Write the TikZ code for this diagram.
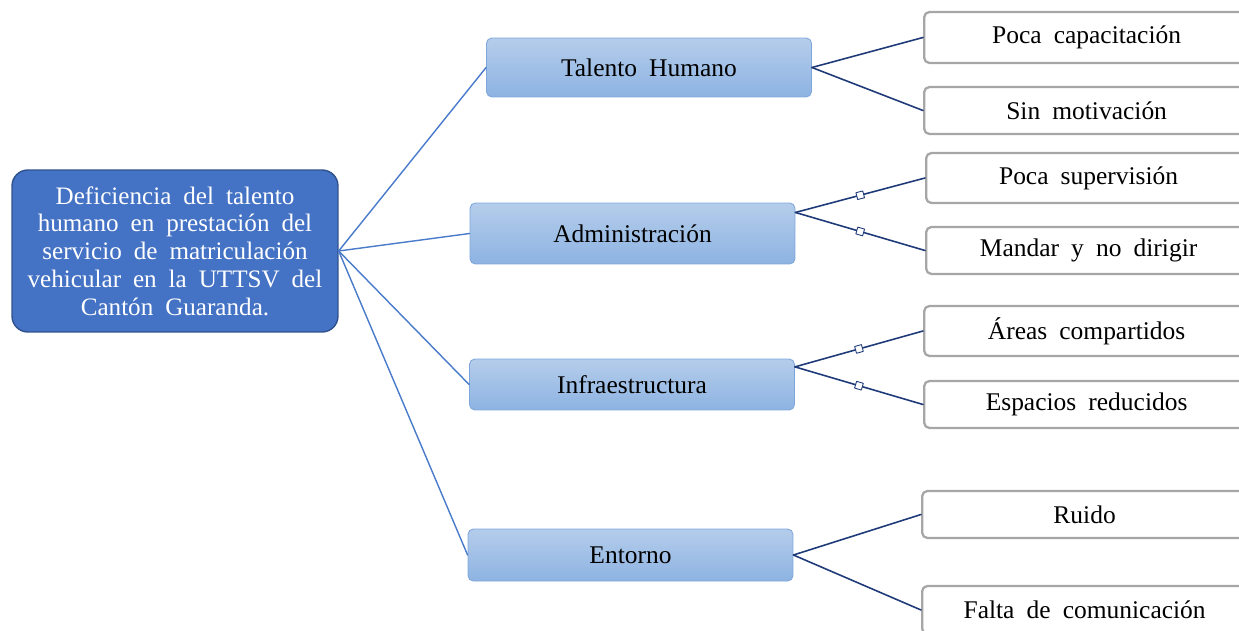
\documentclass[tikz,border=0pt]{standalone}
\usepackage{fontspec}
\setmainfont{Liberation Serif}[WordSpace=1.9]
\usepackage{tikz}
\usetikzlibrary{calc}

\definecolor{probAzul}{HTML}{4472C4}
\definecolor{probBorde}{HTML}{2F528F}
\definecolor{ramaAzul}{HTML}{4A7BCB}
\definecolor{ramaOscura}{HTML}{1F3A78}
\definecolor{causaArriba}{HTML}{B5CDEB}
\definecolor{causaAbajo}{HTML}{8DB3E2}
\definecolor{causaBorde}{HTML}{7EA6DA}
\definecolor{efectoBorde}{HTML}{A6A6A6}

\tikzset{
  problema/.style={draw=probBorde, line width=0.8pt, fill=probAzul, rounded corners=9pt,
    text=white, align=center, minimum width=6.52cm, minimum height=3.24cm,
    font=\fontsize{14.3}{15.8}\selectfont},
  causa/.style={draw=causaBorde, line width=0.5pt, top color=causaArriba, bottom color=causaAbajo,
    rounded corners=3pt, minimum width=6.5cm, font=\fontsize{14.5}{17}\selectfont},
  efecto/.style={draw=efectoBorde, line width=1.3pt, fill=white, rounded corners=3pt,
    anchor=west, minimum width=6.5cm, font=\fontsize{14.5}{17}\selectfont},
  rama/.style={draw=ramaAzul, line width=0.8pt},
  subrama/.style={draw=ramaOscura, line width=0.9pt},
  marca/.style={draw=ramaOscura, fill=white, line width=0.5pt, inner sep=0pt, minimum size=4pt, sloped}
}

\begin{document}
\begin{tikzpicture}[line cap=round,line join=round,x=0.02cm,y=-0.02cm]
		\useasboundingbox (0,0) rectangle (1239,631);
		\clip (0,0) rectangle (1239,631);

		% Problema central
		\node[problema] (prob) at (175,251) {Deficiencia del talento\\ humano en prestación del\\ servicio de matriculación\\ vehicular en la UTTSV del\\ Cantón Guaranda.};

		% Causas
		\node[causa, minimum height=1.18cm] (talento) at (649,67.5) {Talento Humano};
		\node[causa, minimum height=1.22cm] (admin) at (632.5,233.5) {Administración};
		\node[causa, minimum height=1.02cm] (infra) at (632,384.5) {Infraestructura};
		\node[causa, minimum height=1.04cm] (entorno) at (630.5,555) {Entorno};

		% Efectos
		\node[efecto, minimum height=1.02cm] (capac) at (923,37.5) {Poca capacitación};
		\node[efecto, minimum height=0.94cm] (motiv) at (923,110.5) {Sin motivación};
		\node[efecto, minimum height=1.00cm] (superv) at (925,178) {Poca supervisión};
		\node[efecto, minimum height=0.94cm] (mandar) at (925,250.5) {Mandar y no dirigir};
		\node[efecto, minimum height=1.00cm] (areas) at (923,331) {Áreas compartidos};
		\node[efecto, minimum height=0.94cm] (espacios) at (923,404.5) {Espacios reducidos};
		\node[efecto, minimum height=0.94cm] (ruido) at (921,514.5) {Ruido};
		\node[efecto, minimum height=0.96cm] (falta) at (921,610) {Falta de comunicación};

		% Ramas principales
		\draw[rama] (prob.east) -- (talento.west);
		\draw[rama] (prob.east) -- (admin.west);
		\draw[rama] (prob.east) -- (infra.west);
		\draw[rama] (prob.east) -- (entorno.west);

		% Ramas secundarias
		\coordinate (adminV) at ($(admin.north east)!0.16!(admin.south east)$);
		\coordinate (infraV) at ($(infra.north east)!0.16!(infra.south east)$);
		\draw[subrama] (talento.east) -- (capac.west);
		\draw[subrama] (talento.east) -- (motiv.west);
		\draw[subrama] (adminV) -- node[marca] {} (superv.west);
		\draw[subrama] (adminV) -- node[marca] {} (mandar.west);
		\draw[subrama] (infraV) -- node[marca] {} (areas.west);
		\draw[subrama] (infraV) -- node[marca] {} (espacios.west);
		\draw[subrama] (entorno.east) -- (ruido.west);
		\draw[subrama] (entorno.east) -- (falta.west);
	\end{tikzpicture}
\end{document}
